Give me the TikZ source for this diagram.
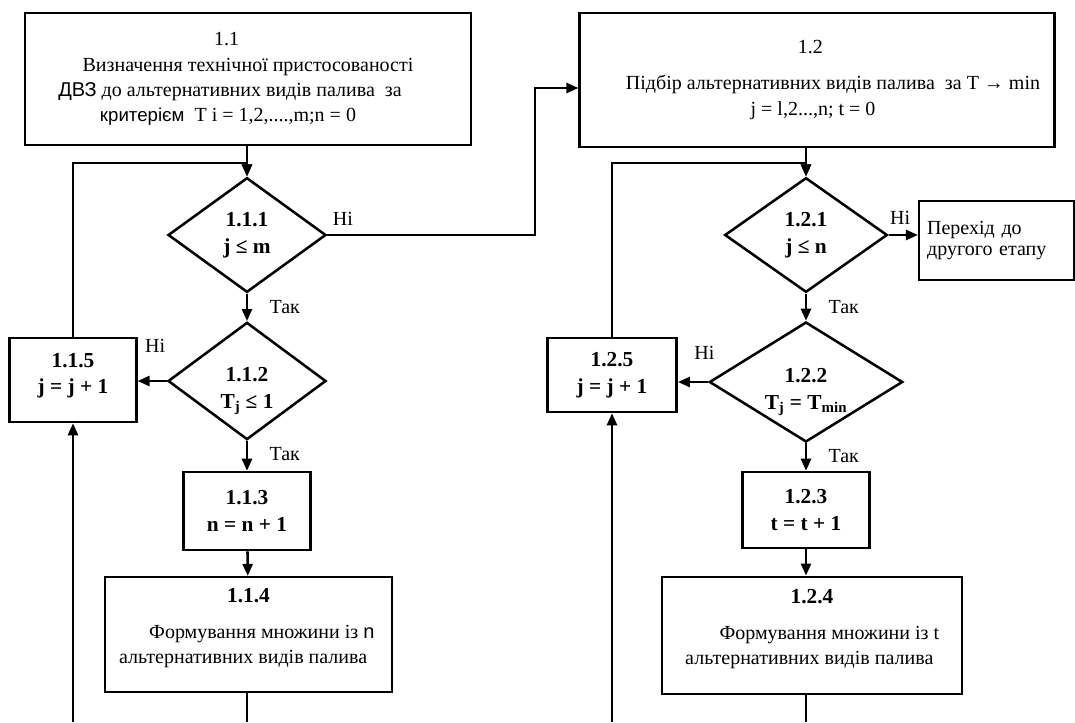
\documentclass[tikz,border=0pt]{standalone}
\usepackage{fontspec}
\setmainfont{Liberation Serif}
\newfontfamily\arialfont{Liberation Sans}
\usepackage{tikz}
\newcommand{\boxwidth}{95pt}
\newcommand{\boxheight}{58pt}
\newcommand{\bnum}[1]{{\fontsize{16}{20}\selectfont\bfseries #1}}
\usetikzlibrary{arrows.meta,calc,positioning,shapes.geometric}
\tikzset{
  >={Triangle[length=9pt,width=7.5pt]},
  font=\fontsize{15}{19}\selectfont,
  rect/.style={draw,line width=1.9pt,shape=rectangle,inner sep=1mm,align=center,minimum width=\boxwidth,minimum height=\boxheight},
  calcbox/.style={rect,font=\fontsize{16}{20}\selectfont\bfseries},
  decision/.style={draw,line width=1.9pt,shape=diamond,inner sep=-8pt,align=center,font=\fontsize{16}{20}\selectfont\bfseries},
  line/.style={draw,->,line width=1.9pt},
  lbl/.style={inner sep=1pt},
  yes/.style={lbl,anchor=north west,xshift=15pt,yshift=-3pt},
}

\begin{document}
\begin{tikzpicture}[x=0.75pt,y=-0.75pt]
      \useasboundingbox (0,0) rectangle (1075,722);
      % first column
      \node (b11) [rect,minimum width=334.5pt,minimum height=99pt] at (248,79)
        {1.1\kern32pt\\ Визначення технічної пристосованості\\
         {\arialfont ДВЗ} до альтернативних видів палива\ \ за\kern27pt\\
         {\arialfont\fontsize{14}{19}\selectfont критерієм}\ \ T i = 1,2,....,m;n = 0\kern30pt};
      \node (d111) [decision,minimum width=118.5pt,minimum height=86pt] at (247,235) {1.1.1\\ j ≤ m};
      \node (d112) [decision,minimum width=118.5pt,minimum height=88pt] at (247,381) {\mbox{}\\[6pt]1.1.2\\ T\textsubscript{j} ≤ 1};
      \node (b115) [calcbox,minimum height=63pt] at (73,380) {1.1.5\\ j = j + 1\\[-10pt]\mbox{}};
      \node (b113) [calcbox,minimum height=58.5pt] at (247,511) {1.1.3\\ n = n + 1};
      \node (b114) [rect,minimum width=215pt,minimum height=86pt] at (248.5,634.5)
        {\bnum{1.1.4}\\[8pt] \kern20pt Формування множини із {\arialfont n}\\
         альтернативних видів палива\kern8pt\\[-6pt]\mbox{}};
      \coordinate (jl) at (247,163);
      \coordinate (k1) at (535,88);
      \coordinate (i1) at (73,722);
      \coordinate (o1) at (247,722);
      % second column
      \node (b12) [rect,minimum width=356pt,minimum height=100.5pt] at (817,80)
        {1.2\kern10pt\\[8pt] \kern24pt Підбір альтернативних видів палива\ \ за T → min\\
         j = l,2...,n; t = 0\kern6pt};
      \node (d121) [decision,minimum width=122pt,minimum height=86pt] at (806,235) {1.2.1\\ j ≤ n};
      \node (b13) [rect,align=left,inner sep=5pt,text width=104pt,minimum width=116pt,minimum height=59pt,font=\fontsize{15}{16}\selectfont] at (996.5,240.5)
        {Перехід до\\ другого етапу};
      \node (d122) [decision,minimum width=145pt,minimum height=90pt] at (806,382) {\mbox{}\\[6pt]1.2.2\\ T\textsubscript{j} = T\textsubscript{min}};
      \node (b125) [calcbox,minimum width=97pt,minimum height=55.5pt] at (612,375) {1.2.5\\ j = j + 1};
      \node (b123) [calcbox,minimum height=57pt] at (806,510) {1.2.3\\ t = t + 1};
      \node (b124) [rect,minimum width=225pt,minimum height=88pt] at (812,635.5)
        {\bnum{1.2.4}\\[8pt] \kern26pt Формування множини із t\\
         альтернативних видів палива\kern4pt\\[-6pt]\mbox{}};
      \coordinate (jr) at (806,163);
      \coordinate (i2) at (612,722);
      \coordinate (o2) at (806,722);
      % connectors, first column
      \path [line] (d111.north |- b11.south) -- (d111.north);
      \path [line] (b115.north) |- (jl) -- (d111.north);
      \path [line] (d111.east) -| (k1) -- (k1 -| b12.west);
      \path [line] (d111) -- (d112) node[at start,yes]{Так};
      \path [line] (d112.west) -- (d112.west -| b115.east);
      \path [line] (d112) -- (b113) node[at start,yes]{Так};
      \path [line] (b113) -- (b114);
      \path [line,-] (b114.south -| o1) -- (o1);
      \path [line] (i1) -- (b115.south);
      \node (n111) [lbl,anchor=south west,xshift=3pt,yshift=6pt] at (d111.east) {Ні};
      \node (n112) [lbl,anchor=south east,yshift=20pt] at (d112.west) {Ні};
      % connectors, second column
      \path [line] (d121.north |- b12.south) -- (d121.north);
      \path [line] (b125.north) |- (jr) -- (d121.north);
      \path [line] (d121.east) -- (d121.east -| b13.west);
      \path [line] (d121) -- (d122) node[at start,yes]{Так};
      \path [line] (d122.west) -- (d122.west -| b125.east);
      \path [line] (d122) -- (b123) node[at start,yes]{Так};
      \path [line] (b123) -- (b124.north -| b123);
      \path [line,-] (b124.south -| o2) -- (o2);
      \path [line] (i2) -- (b125.south);
      \node (n121) [lbl,anchor=south west,xshift=0pt,yshift=7pt] at (d121.east) {Ні};
      \node (n122) [lbl,anchor=south east,xshift=6pt,yshift=16pt] at (d122.west) {Ні};
    \end{tikzpicture}
\end{document}
